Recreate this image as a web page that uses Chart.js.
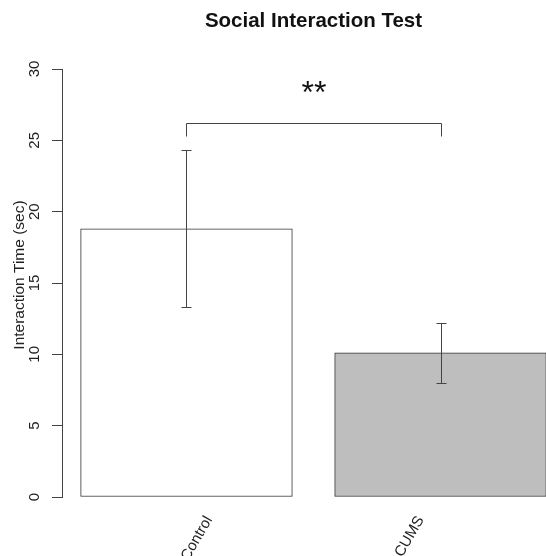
<!DOCTYPE html>
<html>
<head>
<meta charset="utf-8">
<title>Social Interaction Test</title>
<script src="https://cdn.jsdelivr.net/npm/chart.js@4.4.1/dist/chart.umd.min.js"></script>
<style>
    html, body { margin: 0; padding: 0; background: #fff; overflow: hidden; width: 546px; height: 556px; }
    #wrap { width: 627px; height: 556px; }
</style>
</head>
<body>
<div id="wrap"><canvas id="chart" width="627" height="556"></canvas></div>
<script>
// ── Dati ────────────────────────────────────────────────────
var groups = ['Control', 'CUMS'];
var means = [18.8, 10.1];
var errors = [5.5, 2.1];
var yTicks = [0, 5, 10, 15, 20, 25, 30];
var sigLabel = '**';
var sigLevel = 26.2;

// posizioni stile barplot di R: larghezza 1, spazio 0.2
var barPos = groups.map(function (g, i) { return 0.2 + i * 1.2 + 0.5; });
var xLo = 0.2, xHi = groups.length * 1.2;
var xPad = (xHi - xLo) * 0.04;

var FONT = '"Liberation Sans", Arial, Helvetica, sans-serif';
var INK = '#444';

// ── Plugin: titolo, barre d'errore, parentesi, asterischi, titolo asse y ──
var extras = {
    id: 'extras',
    afterDatasetsDraw: function (chart) {
        var ctx = chart.ctx;
        var x = chart.scales.x, y = chart.scales.y, area = chart.chartArea;
        ctx.save();
        ctx.strokeStyle = INK;
        ctx.lineWidth = 1;

        // barre d'errore
        barPos.forEach(function (p, i) {
            var px = Math.round(x.getPixelForValue(p)) + 0.5;
            var top = Math.round(y.getPixelForValue(means[i] + errors[i])) + 0.5;
            var bot = Math.round(y.getPixelForValue(means[i] - errors[i])) + 0.5;
            ctx.beginPath();
            ctx.moveTo(px, top); ctx.lineTo(px, bot);
            ctx.moveTo(px - 5, top); ctx.lineTo(px + 5, top);
            ctx.moveTo(px - 5, bot); ctx.lineTo(px + 5, bot);
            ctx.stroke();
        });

        // parentesi di significatività
        var x1 = Math.round(x.getPixelForValue(barPos[0])) + 0.5;
        var x2 = Math.round(x.getPixelForValue(barPos[1])) + 0.5;
        var yb = Math.round(y.getPixelForValue(sigLevel)) + 0.5;
        var yd = Math.round(y.getPixelForValue(sigLevel - 0.9)) + 0.5;
        ctx.beginPath();
        ctx.moveTo(x1, yd); ctx.lineTo(x1, yb); ctx.lineTo(x2, yb); ctx.lineTo(x2, yd);
        ctx.stroke();

        ctx.fillStyle = '#111';
        ctx.font = '32px ' + FONT;
        ctx.textAlign = 'center';
        ctx.textBaseline = 'alphabetic';
        ctx.fillText(sigLabel, (x1 + x2) / 2, y.getPixelForValue(sigLevel + 1.4));

        // titolo, centrato sulla regione del grafico come in R
        ctx.font = 'bold 20.5px ' + FONT;
        ctx.textBaseline = 'middle';
        ctx.fillText('Social Interaction Test', (area.left + area.right) / 2, 21);

        // titolo asse y
        ctx.translate(20, 275);
        ctx.rotate(-Math.PI / 2);
        ctx.font = '15.5px ' + FONT;
        ctx.fillStyle = '#222';
        ctx.fillText('Interaction Time (sec)', 0, 0);
        ctx.restore();
    }
};

var ctx = document.getElementById('chart').getContext('2d');
var chart = new Chart(ctx, {
    type: 'bar',
    data: {
        datasets: [{
            data: barPos.map(function (p, i) { return { x: p, y: means[i] }; }),
            backgroundColor: ['#ffffff', '#bebebe'],
            borderColor: '#333',
            borderWidth: 1,
            borderSkipped: false,
            barPercentage: 1,
            categoryPercentage: 1
        }]
    },
    plugins: [extras],
    options: {
        responsive: false,
        animation: false,
        devicePixelRatio: 1,
        layout: { padding: { top: 69, left: 0, right: 62, bottom: 0 } },
        plugins: {
            legend: { display: false },
            tooltip: { enabled: false }
        },
        scales: {
            x: {
                type: 'linear',
                offset: false,
                min: xLo - xPad,
                max: xHi + xPad,
                afterBuildTicks: function (scale) {
                    scale.ticks = groups.map(function (g, i) { return { value: i + 1 }; });
                },
                afterFit: function (scale) { scale.height = 59; },
                grid: { display: false, drawTicks: false },
                border: { display: false },
                ticks: {
                    autoSkip: false,
                    minRotation: 60,
                    maxRotation: 60,
                    labelOffset: -41,
                    padding: 16,
                    color: '#222',
                    font: { family: FONT, size: 15 },
                    callback: function (v, i) { return groups[i]; }
                }
            },
            y: {
                min: 0,
                max: 30,
                afterBuildTicks: function (scale) {
                    scale.ticks = yTicks.map(function (t) { return { value: t }; });
                },
                afterFit: function (scale) { scale.width = 62; },
                grid: { drawOnChartArea: false, drawTicks: true, tickLength: 10, color: INK },
                border: { display: true, color: INK },
                ticks: {
                    minRotation: 90,
                    maxRotation: 90,
                    crossAlign: 'center',
                    padding: 9,
                    color: '#222',
                    font: { family: FONT, size: 15 }
                }
            }
        }
    }
});
</script>
</body>
</html>
